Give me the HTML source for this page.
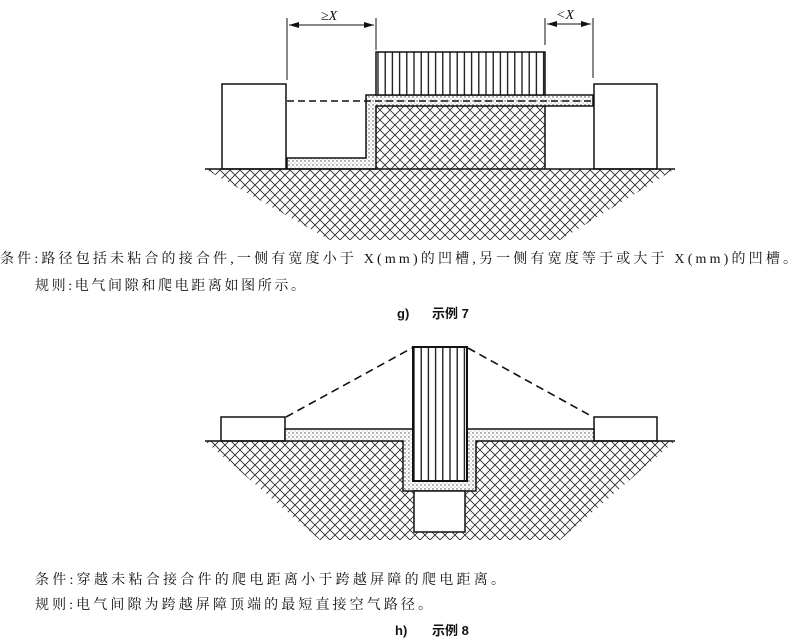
<!DOCTYPE html>
<html><head><meta charset="utf-8"><style>
html,body{margin:0;padding:0;background:#fff;}
svg{display:block;}
.t{font-family:"Liberation Serif","Noto Serif CJK SC",serif;font-size:14px;fill:#111;}
.c{font-family:"Liberation Sans","Noto Sans CJK SC",sans-serif;font-size:13px;font-weight:bold;fill:#111;}
</style></head><body>
<svg width="799" height="639" viewBox="0 0 799 639" xmlns="http://www.w3.org/2000/svg">
<defs>
<pattern id="xh" width="10" height="10" patternUnits="userSpaceOnUse">
<path d="M0 0L10 10M10 0L0 10" stroke="#222" stroke-width="0.8"/>
</pattern>
<pattern id="dt" width="4" height="4" patternUnits="userSpaceOnUse">
<rect width="4" height="4" fill="#fff"/>
<circle cx="1" cy="1" r="0.7" fill="#444"/><circle cx="3" cy="3" r="0.5" fill="#777"/>
</pattern>
<pattern id="vl" width="7.2" height="10" patternUnits="userSpaceOnUse">
<rect width="7.2" height="10" fill="#fff"/><line x1="3.6" y1="0" x2="3.6" y2="10" stroke="#111" stroke-width="1.3"/>
</pattern>
<marker id="ar" markerWidth="10" markerHeight="6" refX="10" refY="3" orient="auto"><path d="M0 0L10 3L0 6z" fill="#111"/></marker>
</defs>

<!-- TOP FIGURE -->
<polygon points="205,169 675,169 560,240 330,240" fill="url(#xh)"/>
<rect x="376" y="106" width="169" height="63" fill="url(#xh)"/>
<rect x="545" y="106" width="48" height="63" fill="#fff"/>
<rect x="222" y="84" width="64" height="85" fill="#fff" stroke="#111" stroke-width="1.5"/>
<rect x="594" y="84" width="63" height="85" fill="#fff" stroke="#111" stroke-width="1.5"/>
<!-- stipple layers -->
<path d="M366 95H593V106H376V169H287V158H366Z" fill="url(#dt)" stroke="#111" stroke-width="1.5"/>
<line x1="545" y1="106" x2="545" y2="169" stroke="#111" stroke-width="1.5"/>
<rect x="376" y="52" width="169" height="43" fill="url(#vl)" stroke="#111" stroke-width="1.5"/>
<line x1="205" y1="169" x2="675" y2="169" stroke="#111" stroke-width="1.5"/>
<line x1="287" y1="101" x2="593" y2="101" stroke="#111" stroke-width="1.6" stroke-dasharray="7,4"/>
<!-- dims -->
<line x1="287" y1="18" x2="287" y2="80" stroke="#111" stroke-width="1"/>
<line x1="376" y1="18" x2="376" y2="50" stroke="#111" stroke-width="1"/>
<line x1="330" y1="25" x2="289" y2="25" stroke="#111" stroke-width="1" marker-end="url(#ar)"/>
<line x1="330" y1="25" x2="374" y2="25" stroke="#111" stroke-width="1" marker-end="url(#ar)"/>
<text x="321" y="20" class="t" font-style="italic">≥X</text>
<line x1="545" y1="18" x2="545" y2="45" stroke="#111" stroke-width="1"/>
<line x1="593" y1="18" x2="593" y2="78" stroke="#111" stroke-width="1"/>
<line x1="569" y1="24" x2="547" y2="24" stroke="#111" stroke-width="1" marker-end="url(#ar)"/>
<line x1="569" y1="24" x2="591" y2="24" stroke="#111" stroke-width="1" marker-end="url(#ar)"/>
<text x="556" y="19" class="t" font-style="italic">&lt;X</text>

<text x="0" y="263" class="t" textLength="797" lengthAdjust="spacing">条件:路径包括未粘合的接合件,一侧有宽度小于 X(mm)的凹槽,另一侧有宽度等于或大于 X(mm)的凹槽。</text>
<text x="35" y="290" class="t" textLength="270" lengthAdjust="spacing">规则:电气间隙和爬电距离如图所示。</text>
<text x="397" y="318" class="c">g)</text>
<text x="432" y="318" class="c">示例 7</text>

<!-- BOTTOM FIGURE -->
<polygon points="205,441 675,441 560,540 320,540" fill="url(#xh)"/>
<rect x="221" y="417" width="64" height="24" fill="#fff" stroke="#111" stroke-width="1.5"/>
<rect x="594" y="417" width="63" height="24" fill="#fff" stroke="#111" stroke-width="1.5"/>
<path d="M285 429H594V441H476V491H403V441H285Z" fill="url(#dt)" stroke="#111" stroke-width="1.5"/>
<rect x="414" y="491" width="51" height="41" fill="#fff" stroke="#111" stroke-width="1.5"/>
<rect x="413" y="347" width="54" height="134" fill="url(#vl)" stroke="#111" stroke-width="2"/>
<line x1="205" y1="441" x2="285" y2="441" stroke="#111" stroke-width="1.5"/>
<line x1="594" y1="441" x2="675" y2="441" stroke="#111" stroke-width="1.5"/>
<line x1="286" y1="417" x2="412" y2="348" stroke="#111" stroke-width="1.6" stroke-dasharray="8,5"/>
<line x1="468" y1="348" x2="593" y2="417" stroke="#111" stroke-width="1.6" stroke-dasharray="8,5"/>

<text x="35" y="584" class="t" textLength="470" lengthAdjust="spacing">条件:穿越未粘合接合件的爬电距离小于跨越屏障的爬电距离。</text>
<text x="35" y="609" class="t" textLength="397" lengthAdjust="spacing">规则:电气间隙为跨越屏障顶端的最短直接空气路径。</text>
<text x="395" y="635" class="c">h)</text>
<text x="432" y="635" class="c">示例 8</text>
</svg>
</body></html>
